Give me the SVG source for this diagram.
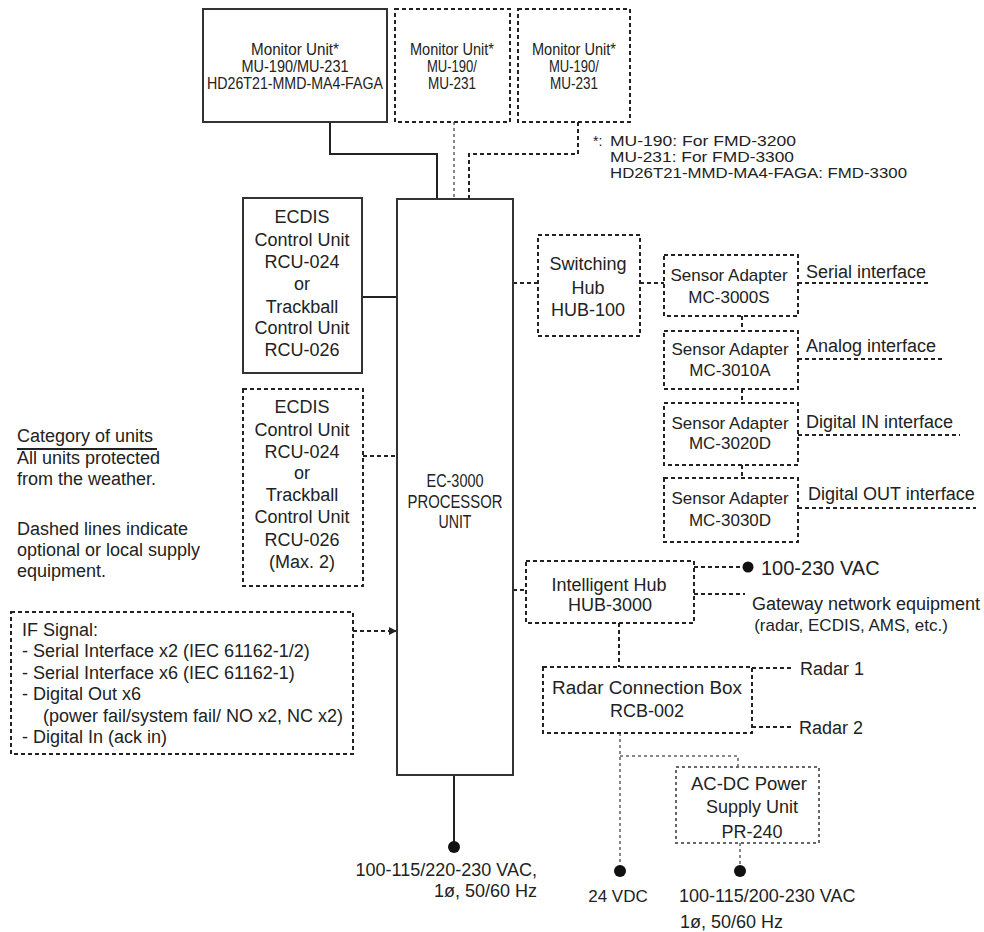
<svg xmlns="http://www.w3.org/2000/svg" width="984" height="932" viewBox="0 0 984 932">
<style>
text{font-family:"Liberation Sans",Arial,sans-serif;fill:#222;}
.c{text-anchor:middle;}
.solid{fill:#fff;stroke:#333;stroke-width:2;}
.dash{fill:#fff;stroke:#222;stroke-width:2;stroke-dasharray:4 3;}
.dashg{fill:#fff;stroke:#666;stroke-width:2;stroke-dasharray:3 3;}
.ln{fill:none;stroke:#222;stroke-width:2;}
.ld{fill:none;stroke:#222;stroke-width:2;stroke-dasharray:4 3;}
.lg{fill:none;stroke:#888;stroke-width:2;stroke-dasharray:3 3;}
.mon{font-size:16px;}
.fn{font-size:14px;}
.f17{font-size:17px;}
.f18{font-size:18px;}
.f19{font-size:19px;}
</style>
<defs>
<marker id="arr" viewBox="0 0 10 10" refX="9" refY="5" markerWidth="8" markerHeight="8" markerUnits="userSpaceOnUse" orient="auto"><path d="M0,0 L10,5 L0,10 z" fill="#222"/></marker>
</defs>

<g id="connectors">
<path class="ln" d="M330,122 V154 H437 V199"/>
<path class="lg" d="M454,122 V199"/>
<path class="ld" d="M578,122 V154 H469 V199"/>
<path class="ln" d="M362,297 H397"/>
<path class="ld" d="M363,456 H397"/>
<path class="ld" d="M353,631 H396" marker-end="url(#arr)"/>
<path class="ld" d="M513,283 H538"/>
<path class="ld" d="M640,283 H664"/>
<path class="ld" d="M742,316 V331"/>
<path class="ld" d="M742,389 V403"/>
<path class="ld" d="M742,465 V478"/>
<path class="ld" d="M798,283 H930"/>
<path class="ld" d="M798,359 H943"/>
<path class="ld" d="M798,435 H960"/>
<path class="ld" d="M798,508 H976"/>
<path class="ld" d="M513,590 H526"/>
<path class="ld" d="M694,567 H748"/>
<path class="ld" d="M694,594 H745"/>
<path class="ld" d="M619,623 V667"/>
<path class="ld" d="M752,668 H793"/>
<path class="ld" d="M752,727 H793"/>
<path class="lg" d="M620,733 V871"/>
<path class="lg" d="M620,756 H738 V767"/>
<path class="lg" d="M740,843 V871"/>
<path class="ln" d="M454,775 V847"/>
<circle cx="748" cy="567" r="5.5" fill="#111"/>
<circle cx="620" cy="871" r="6" fill="#111"/>
<circle cx="740" cy="871" r="6" fill="#111"/>
<circle cx="454" cy="847" r="6" fill="#111"/>
</g>

<g id="monitor1">
<rect class="solid" x="203" y="9" width="184" height="113"/>
<text class="c mon" x="295" y="55" textLength="88" lengthAdjust="spacingAndGlyphs">Monitor Unit*</text>
<text class="c mon" x="295" y="72" textLength="107" lengthAdjust="spacingAndGlyphs">MU-190/MU-231</text>
<text class="c mon" x="295" y="89" textLength="176" lengthAdjust="spacingAndGlyphs">HD26T21-MMD-MA4-FAGA</text>
</g>
<g id="monitor2">
<rect class="dash" x="395" y="9" width="115" height="113"/>
<text class="c mon" x="452" y="55" textLength="84" lengthAdjust="spacingAndGlyphs">Monitor Unit*</text>
<text class="c mon" x="452" y="72" textLength="50" lengthAdjust="spacingAndGlyphs">MU-190/</text>
<text class="c mon" x="452" y="89" textLength="48" lengthAdjust="spacingAndGlyphs">MU-231</text>
</g>
<g id="monitor3">
<rect class="dash" x="518" y="9" width="112" height="113"/>
<text class="c mon" x="574" y="55" textLength="84" lengthAdjust="spacingAndGlyphs">Monitor Unit*</text>
<text class="c mon" x="574" y="72" textLength="50" lengthAdjust="spacingAndGlyphs">MU-190/</text>
<text class="c mon" x="574" y="89" textLength="48" lengthAdjust="spacingAndGlyphs">MU-231</text>
</g>
<g id="footnote">
<text class="fn" x="593" y="146">*:</text>
<text class="fn" x="610" y="146" textLength="186" lengthAdjust="spacingAndGlyphs">MU-190: For FMD-3200</text>
<text class="fn" x="610" y="162" textLength="184" lengthAdjust="spacingAndGlyphs">MU-231: For FMD-3300</text>
<text class="fn" x="610" y="178" textLength="297" lengthAdjust="spacingAndGlyphs">HD26T21-MMD-MA4-FAGA: FMD-3300</text>
</g>

<g id="processor">
<rect class="solid" x="397" y="199" width="116" height="576"/>
<text class="c f19" x="455" y="487" textLength="57" lengthAdjust="spacingAndGlyphs">EC-3000</text>
<text class="c f19" x="455" y="508" textLength="95" lengthAdjust="spacingAndGlyphs">PROCESSOR</text>
<text class="c f19" x="455" y="528" textLength="33" lengthAdjust="spacingAndGlyphs">UNIT</text>
</g>

<g id="ecdis1">
<rect class="solid" x="243" y="198" width="119" height="175"/>
<text class="c f18" x="302" y="223">ECDIS</text>
<text class="c f18" x="302" y="246">Control Unit</text>
<text class="c f18" x="302" y="268">RCU-024</text>
<text class="c f18" x="302" y="290">or</text>
<text class="c f18" x="302" y="313">Trackball</text>
<text class="c f18" x="302" y="334">Control Unit</text>
<text class="c f18" x="302" y="356">RCU-026</text>
</g>
<g id="ecdis2">
<rect class="dash" x="243" y="389" width="120" height="197"/>
<text class="c f18" x="302" y="413">ECDIS</text>
<text class="c f18" x="302" y="436">Control Unit</text>
<text class="c f18" x="302" y="458">RCU-024</text>
<text class="c f18" x="302" y="479">or</text>
<text class="c f18" x="302" y="501">Trackball</text>
<text class="c f18" x="302" y="523">Control Unit</text>
<text class="c f18" x="302" y="546">RCU-026</text>
<text class="c f18" x="302" y="568">(Max. 2)</text>
</g>

<g id="legend">
<text class="f18" x="17" y="442">Category of units</text>
<line x1="17" y1="449" x2="157" y2="449" stroke="#222" stroke-width="2"/>
<text class="f18" x="17" y="464">All units protected</text>
<text class="f18" x="17" y="485">from the weather.</text>
<text class="f18" x="17" y="535">Dashed lines indicate</text>
<text class="f18" x="17" y="556">optional or local supply</text>
<text class="f18" x="17" y="577">equipment.</text>
</g>

<g id="ifsignal">
<rect class="dash" x="11" y="612" width="342" height="142"/>
<text class="f18" x="22" y="636">IF Signal:</text>
<text class="f18" x="22" y="657">- Serial Interface x2 (IEC 61162-1/2)</text>
<text class="f18" x="22" y="679">- Serial Interface x6 (IEC 61162-1)</text>
<text class="f18" x="22" y="700">- Digital Out x6</text>
<text class="f18" x="43" y="722">(power fail/system fail/ NO x2, NC x2)</text>
<text class="f18" x="22" y="743">- Digital In (ack in)</text>
</g>

<g id="switchhub">
<rect class="dash" x="538" y="235" width="102" height="101"/>
<text class="c f18" x="588" y="270">Switching</text>
<text class="c f18" x="588" y="294">Hub</text>
<text class="c f18" x="588" y="316">HUB-100</text>
</g>

<g id="sa1">
<rect class="dash" x="664" y="255" width="134" height="61"/>
<text class="c f17" x="729" y="281">Sensor Adapter</text>
<text class="c f17" x="729" y="303">MC-3000S</text>
</g>
<g id="sa2">
<rect class="dash" x="664" y="331" width="134" height="58"/>
<text class="c f17" x="730" y="355">Sensor Adapter</text>
<text class="c f17" x="730" y="376">MC-3010A</text>
</g>
<g id="sa3">
<rect class="dash" x="664" y="403" width="134" height="62"/>
<text class="c f17" x="730" y="429">Sensor Adapter</text>
<text class="c f17" x="730" y="449">MC-3020D</text>
</g>
<g id="sa4">
<rect class="dash" x="664" y="478" width="134" height="64"/>
<text class="c f17" x="730" y="504">Sensor Adapter</text>
<text class="c f17" x="730" y="526">MC-3030D</text>
</g>
<g id="iflabels">
<text class="f18" x="806" y="278">Serial interface</text>
<text class="f18" x="806" y="352">Analog interface</text>
<text class="f18" x="806" y="428">Digital IN interface</text>
<text class="f18" x="808" y="500">Digital OUT interface</text>
</g>

<g id="ihub">
<rect class="dash" x="526" y="561" width="168" height="62"/>
<text class="c f18" x="609" y="591">Intelligent Hub</text>
<text class="c f18" x="610" y="611">HUB-3000</text>
</g>
<g id="ihub-labels">
<text style="font-size:20px" x="761" y="575">100-230 VAC</text>
<text class="f18" x="752" y="610">Gateway network equipment</text>
<text class="c f17" x="851" y="631">(radar, ECDIS, AMS, etc.)</text>
</g>

<g id="rcb">
<rect class="dash" x="543" y="667" width="209" height="66"/>
<text class="c f18" x="647" y="694" textLength="190" lengthAdjust="spacingAndGlyphs">Radar Connection Box</text>
<text class="c f18" x="647" y="717">RCB-002</text>
<text class="f18" x="800" y="675">Radar 1</text>
<text class="f18" x="799" y="734">Radar 2</text>
</g>

<g id="psu">
<rect class="dashg" x="676" y="767" width="143" height="76"/>
<text class="c f18" x="749" y="790" textLength="116" lengthAdjust="spacingAndGlyphs">AC-DC Power</text>
<text class="c f18" x="752" y="813">Supply Unit</text>
<text class="c f18" x="752" y="838">PR-240</text>
</g>

<g id="power-labels">
<text class="f18" x="537" y="876" text-anchor="end">100-115/220-230 VAC,</text>
<text class="f18" x="537" y="897" text-anchor="end">1ø, 50/60 Hz</text>
<text class="c f17" x="618" y="902">24 VDC</text>
<text class="f18" x="679" y="902">100-115/200-230 VAC</text>
<text class="f18" x="680" y="928">1ø, 50/60 Hz</text>
</g>
</svg>
